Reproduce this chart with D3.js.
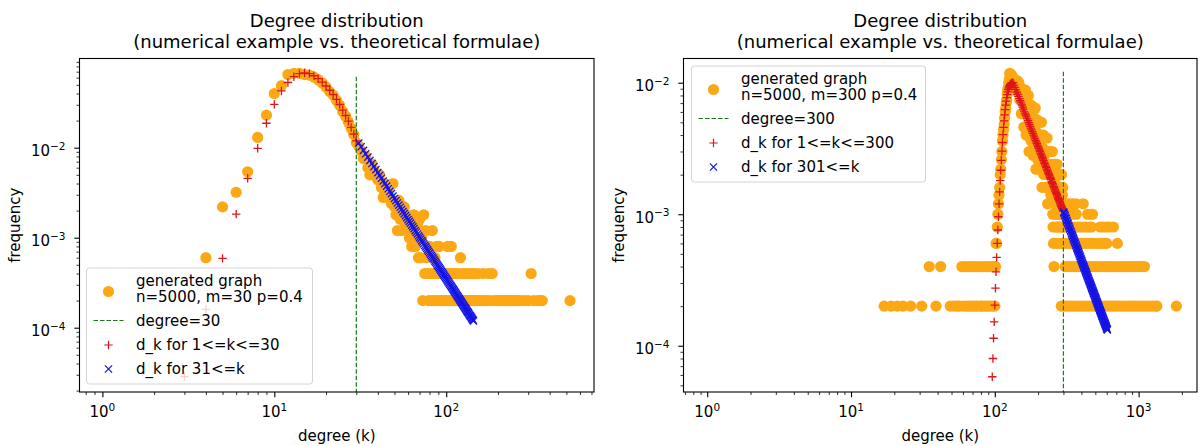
<!DOCTYPE html>
<html>
<head>
<meta charset="utf-8">
<script src="https://cdn.jsdelivr.net/npm/d3@7"></script>
<style>
  body { margin: 0; background: #fff; }
  text { font-family: "DejaVu Sans", sans-serif; fill: #000; }
</style>
</head>
<body>
<script>
// observed degree counts of the generated graphs, [degree, number of nodes], n = 5000
var nodes = 5000;

var observed30 = [
  [4,3],[5,11],[6,16],[7,27],[8,65],[9,115],[10,200],[11,245],[12,325],[13,335],[14,335],
  [15,325],[16,320],[17,305],[18,285],[19,262],[20,236],[21,210],[22,192],[23,168],[24,148],
  [25,126],[26,112],[27,96],[28,82],[29,70],[30,57],
  [31,52],[32,46],[33,38],[34,40],[35,30],[36,25],[37,33],[38,28],[39,24],[40,22],[41,25],
  [42,18],[43,14],[44,20],[45,16],[46,17],[47,14],[48,12],[49,20],[50,11],[51,9],[52,6],
  [53,13],[54,8],[55,6],[56,10],[57,11],[58,7],[59,9],[60,6],[61,5],[62,8],[63,4],[64,7],
  [65,9],[66,4],[67,5],[68,7],[69,3],[70,8],[71,3],[72,5],[73,1],[74,9],[75,2],[76,6],
  [77,3],[78,2],[79,1],[80,4],[81,2],[82,1],[83,6],[84,2],[85,1],[86,3],[87,2],[88,4],
  [89,1],[90,2],[91,4],[92,1],[93,2],[94,1],[95,2],[96,2],[97,1],[98,2],[99,1],[100,2],
  [102,4],[103,1],[104,2],[105,1],[106,2],[107,4],[108,1],[110,2],[111,1],[113,2],[114,1],
  [116,1],[117,2],[119,1],[121,3],[122,1],[124,2],[125,1],[127,1],[128,2],[131,1],[133,2],
  [135,1],[138,1],[140,2],[142,1],[145,2],[147,1],[150,1],[153,2],[156,1],[160,1],[164,2],
  [168,1],[172,1],[176,2],[180,1],[185,2],[190,1],[196,1],[202,1],[208,1],[214,1],[220,1],
  [226,1],[233,1],[240,1],[247,1],[255,1],[262,1],[270,1],[285,1],[300,1],[312,2],[322,1],
  [340,1],[352,1],[362,1],[525,1]
];

var observed300 = [
  // low degrees
  [17,1],[19,1],[21,1],[23,1],[26,1],[31,1],[35,2],[39,1],[42,2],[49,1],[52,1],[55,1],[57,1],
  [59,2],[61,1],[62,2],[64,1],[65,2],[67,1],[68,2],[70,1],[71,2],[73,1],[74,2],[76,1],[78,2],
  [80,1],[82,1],[83,2],[86,1],[87,2],[89,1],[91,2],[93,1],[95,2],[97,1],[99,2],
  // rise to the peak
  [100,1],[101,2],[102,3],[103,3],[104,4],[105,5],[106,6],[107,7],[108,8],[109,10],[110,11],
  [111,13],[112,15],[113,18],[114,20],[115,22],[116,24],[117,27],[118,30],[119,32],[120,35],
  [121,37],[122,41],[123,44],[124,46],[125,50],[126,53],[127,59],[128,56],[129,58],[130,54],
  [131,57],[132,52],[133,55],[134,50],[135,53],[136,48],[137,51],[138,46],[139,49],[140,45],
  // tail up to m
  [141,49],[143,52],[145,42],[147,50],[149,37],[151,46],[153,29],[155,42],[157,42],[159,23],
  [161,34],[163,44],[165,20],[167,36],[169,23],[171,40],[173,15],[175,28],[177,34],[179,18],
  [181,25],[183,33],[185,14],[187,27],[189,17],[191,32],[193,11],[195,21],[197,26],[199,13],
  [201,19],[203,25],[205,11],[207,20],[209,13],[211,25],[213,8],[215,16],[217,20],[219,10],
  [221,14],[223,19],[225,8],[227,15],[229,10],[231,19],[233,6],[235,12],[237,15],[239,8],
  [241,11],[243,15],[245,7],[247,12],[249,8],[251,15],[253,5],[255,10],[257,12],[259,6],
  [261,9],[263,12],[265,5],[267,10],[269,6],[271,12],[273,4],[275,8],[277,10],[279,5],
  [281,7],[283,10],[285,4],[287,8],[289,5],[291,10],[293,3],[295,7],[297,8],[299,4],
  // high degrees
  [300,6],[315,6],[331,6],[348,6],[366,6],[412,6],
  [262,5],[276,5],[288,5],[302,5],[318,5],[334,5],[351,5],[368,5],[442,5],[461,5],[478,5],
  [254,4],[266,4],[280,4],[294,4],[310,4],[326,4],[342,4],[359,4],[377,4],[396,4],[416,4],
  [437,4],[459,4],[470,4],[540,4],[567,4],[595,4],[625,4],[668,4],
  [256,3],[268,3],[282,3],[296,3],[312,3],[328,3],[344,3],[362,3],[380,3],[399,3],[419,3],
  [440,3],[462,3],[485,3],[509,3],[534,3],[561,3],[589,3],[600,3],[712,3],
  [258,2],[309,2],[324,2],[341,2],[358,2],[376,2],[395,2],[414,2],[435,2],[457,2],[480,2],
  [504,2],[529,2],[556,2],[583,2],[612,2],[643,2],[675,2],[709,2],[744,2],[781,2],[820,2],
  [861,2],[904,2],[949,2],[997,2],[1047,2],[1098,2],
  [290,1],[305,1],[320,1],[336,1],[353,1],[371,1],[390,1],[409,1],[430,1],[451,1],[474,1],
  [497,1],[522,1],[548,1],[576,1],[605,1],[635,1],[667,1],[700,1],[735,1],[772,1],[810,1],
  [851,1],[893,1],[938,1],[985,1],[1034,1],[1086,1],[1140,1],[1197,1],[1257,1],[1320,1],
  [1340,1],[1830,1]
];

// theoretical d_k, [k, d_k]
var dkLow30 = [
  [3,2.86e-5],[4,1.6e-4],[5,5.9e-4],[6,1.83e-3],[7,4.57e-3],[8,9.85e-3],[9,1.87e-2],
  [10,3.03e-2],[11,4.27e-2],[12,5.30e-2],[13,6.15e-2],[14,6.65e-2],[15,6.80e-2],[16,6.65e-2],
  [17,6.30e-2],[18,5.85e-2],[19,5.35e-2],[20,4.85e-2],[21,4.35e-2],[22,3.90e-2],[23,3.45e-2],
  [24,3.02e-2],[25,2.62e-2],[26,2.28e-2],[27,1.97e-2],[28,1.68e-2],[29,1.42e-2],[30,1.19e-2]
];
var dkHigh30 = [
  [31,1.125e-2],[32,1.025e-2],[33,9.35e-3],[34,8.56e-3],[35,7.86e-3],[36,7.23e-3],[37,6.67e-3],
  [38,6.16e-3],[39,5.70e-3],[40,5.29e-3],[41,4.92e-3],[42,4.58e-3],[43,4.27e-3],[44,3.99e-3],
  [45,3.74e-3],[46,3.50e-3],[47,3.28e-3],[48,3.09e-3],[49,2.90e-3],[50,2.73e-3],[51,2.58e-3],
  [52,2.43e-3],[53,2.30e-3],[54,2.18e-3],[55,2.06e-3],[56,1.95e-3],[57,1.85e-3],[58,1.76e-3],
  [59,1.67e-3],[60,1.59e-3],[61,1.52e-3],[62,1.45e-3],[63,1.38e-3],[64,1.32e-3],[65,1.26e-3],
  [66,1.20e-3],[67,1.15e-3],[68,1.10e-3],[69,1.05e-3],[70,1.01e-3],[71,9.68e-4],[72,9.29e-4],
  [73,8.92e-4],[74,8.57e-4],[75,8.23e-4],[76,7.92e-4],[77,7.61e-4],[78,7.33e-4],[79,7.06e-4],
  [80,6.80e-4],[81,6.55e-4],[82,6.32e-4],[83,6.10e-4],[84,5.89e-4],[85,5.68e-4],[86,5.49e-4],
  [87,5.31e-4],[88,5.13e-4],[89,4.96e-4],[90,4.80e-4],[91,4.65e-4],[92,4.50e-4],[93,4.36e-4],
  [94,4.22e-4],[95,4.09e-4],[96,3.96e-4],[97,3.84e-4],[98,3.73e-4],[99,3.62e-4],[100,3.51e-4],
  [101,3.41e-4],[102,3.31e-4],[103,3.22e-4],[104,3.13e-4],[105,3.04e-4],[106,2.96e-4],
  [107,2.88e-4],[108,2.80e-4],[109,2.72e-4],[110,2.65e-4],[111,2.58e-4],[112,2.51e-4],
  [113,2.45e-4],[114,2.38e-4],[115,2.32e-4],[116,2.26e-4],[117,2.21e-4],[118,2.15e-4],
  [119,2.10e-4],[120,2.05e-4],[121,2.00e-4],[122,1.95e-4],[123,1.90e-4],[124,1.86e-4],
  [125,1.81e-4],[126,1.77e-4],[127,1.73e-4],[128,1.69e-4],[129,1.65e-4],[130,1.62e-4],
  [131,1.58e-4],[132,1.54e-4],[133,1.51e-4],[134,1.48e-4],[135,1.45e-4],[136,1.41e-4],
  [137,1.38e-4],[138,1.35e-4],[139,1.33e-4],[140,1.30e-4],[141,1.27e-4],[142,1.24e-4],
  [143,1.22e-4],[144,1.19e-4]
];
var dkLow300 = [
  [96,5.81e-5],[97,8.0e-5],[98,1.14e-4],[99,1.52e-4],[100,2.04e-4],[101,2.74e-4],[102,3.65e-4],
  [103,4.70e-4],[104,6.01e-4],[105,7.59e-4],[106,9.57e-4],[107,1.20e-3],[108,1.48e-3],
  [109,1.80e-3],[110,2.16e-3],[111,2.57e-3],[112,3.02e-3],[113,3.51e-3],[114,4.03e-3],
  [115,4.57e-3],[116,5.13e-3],[117,5.69e-3],[118,6.24e-3],[119,6.76e-3],[120,7.24e-3],
  [121,7.71e-3],[122,8.13e-3],[123,8.51e-3],[124,8.85e-3],[125,9.12e-3],[126,9.33e-3],
  [127,9.51e-3],[128,9.66e-3],[129,9.77e-3],[130,9.86e-3],[131,9.93e-3],[132,9.98e-3],
  [134,1.0e-2],[136,9.60e-3],[138,9.21e-3],[140,8.85e-3],[142,8.50e-3],[144,8.17e-3],
  [146,7.86e-3],[148,7.57e-3],[150,7.29e-3],[152,7.03e-3],[154,6.77e-3],[156,6.53e-3],
  [158,6.30e-3],[160,6.09e-3],[162,5.88e-3],[164,5.68e-3],[166,5.49e-3],[168,5.31e-3],
  [170,5.14e-3],[172,4.97e-3],[174,4.81e-3],[176,4.66e-3],[178,4.52e-3],[180,4.38e-3],
  [182,4.24e-3],[184,4.12e-3],[186,3.99e-3],[188,3.87e-3],[190,3.76e-3],[192,3.65e-3],
  [194,3.55e-3],[196,3.45e-3],[198,3.35e-3],[200,3.26e-3],[202,3.17e-3],[204,3.08e-3],
  [206,3.00e-3],[208,2.92e-3],[210,2.84e-3],[212,2.77e-3],[214,2.70e-3],[216,2.63e-3],
  [218,2.56e-3],[220,2.49e-3],[222,2.43e-3],[224,2.37e-3],[226,2.31e-3],[228,2.26e-3],
  [230,2.20e-3],[232,2.15e-3],[234,2.10e-3],[236,2.05e-3],[238,2.00e-3],[240,1.96e-3],
  [242,1.91e-3],[244,1.87e-3],[246,1.83e-3],[248,1.78e-3],[250,1.74e-3],[252,1.71e-3],
  [254,1.67e-3],[256,1.63e-3],[258,1.60e-3],[260,1.56e-3],[262,1.53e-3],[264,1.50e-3],
  [266,1.47e-3],[268,1.44e-3],[270,1.41e-3],[272,1.38e-3],[274,1.35e-3],[276,1.32e-3],
  [278,1.30e-3],[280,1.27e-3],[282,1.25e-3],[284,1.22e-3],[286,1.20e-3],[288,1.17e-3],
  [290,1.15e-3],[292,1.13e-3],[294,1.11e-3],[296,1.09e-3],[298,1.07e-3],[300,1.05e-3]
];
var dkHigh300 = [
  [301,1.040e-3],[306,9.91e-4],[311,9.44e-4],[316,9.01e-4],[321,8.60e-4],[326,8.22e-4],
  [331,7.86e-4],[336,7.52e-4],[341,7.20e-4],[346,6.90e-4],[351,6.61e-4],[356,6.34e-4],
  [361,6.09e-4],[366,5.84e-4],[371,5.61e-4],[376,5.40e-4],[381,5.19e-4],[386,4.99e-4],
  [391,4.81e-4],[396,4.63e-4],[401,4.46e-4],[406,4.30e-4],[411,4.15e-4],[416,4.00e-4],
  [421,3.87e-4],[426,3.73e-4],[431,3.61e-4],[436,3.49e-4],[441,3.37e-4],[446,3.26e-4],
  [451,3.15e-4],[456,3.05e-4],[461,2.96e-4],[466,2.87e-4],[471,2.78e-4],[476,2.69e-4],
  [481,2.61e-4],[486,2.53e-4],[491,2.46e-4],[496,2.38e-4],[501,2.31e-4],[506,2.25e-4],
  [511,2.18e-4],[516,2.12e-4],[521,2.06e-4],[526,2.00e-4],[531,1.95e-4],[536,1.89e-4],
  [541,1.84e-4],[546,1.79e-4],[551,1.75e-4],[556,1.70e-4],[561,1.66e-4],[566,1.61e-4],
  [571,1.57e-4],[576,1.53e-4],[581,1.49e-4],[586,1.46e-4],[591,1.42e-4],[596,1.39e-4],
  [601,1.35e-4],[606,1.32e-4],
  [303,1.020e-3],[308,9.72e-4],[313,9.27e-4],[318,8.85e-4],[323,8.45e-4],[328,8.07e-4],
  [333,7.72e-4],[338,7.39e-4],[343,7.07e-4],[348,6.78e-4],[353,6.50e-4],[358,6.24e-4],
  [363,5.99e-4],[368,5.75e-4],[373,5.53e-4],[378,5.31e-4],[383,5.11e-4],[388,4.92e-4],
  [393,4.74e-4],[398,4.56e-4],[403,4.40e-4],[408,4.24e-4],[413,4.09e-4],[418,3.95e-4],
  [423,3.81e-4],[428,3.68e-4],[433,3.56e-4],[438,3.44e-4],[443,3.33e-4],[448,3.22e-4],
  [453,3.11e-4],[458,3.01e-4],[463,2.92e-4],[468,2.83e-4],[473,2.74e-4],[478,2.66e-4],
  [483,2.58e-4],[488,2.50e-4],[493,2.43e-4],[498,2.36e-4],[503,2.29e-4],[508,2.22e-4],
  [513,2.16e-4],[518,2.10e-4],[523,2.04e-4],[528,1.98e-4],[533,1.93e-4],[538,1.87e-4],
  [543,1.82e-4],[548,1.78e-4],[553,1.73e-4],[558,1.68e-4],[563,1.64e-4],[568,1.60e-4],
  [573,1.56e-4],[578,1.52e-4],[583,1.48e-4],[588,1.44e-4],[593,1.41e-4],[598,1.37e-4],
  [603,1.34e-4]
];

// axis limits of the two panels
var xLim30 = [0.736, 724], yLim30 = [1.93e-5, 0.098];
var xLim300 = [0.684, 2547], yLim300 = [4.45e-5, 0.01528];

var orange = "#fca815";
var plusPath = "M-4.2,0H4.2M0,-4.2V4.2";
var crossPath = "M-3.6,-3.6L3.6,3.6M-3.6,3.6L3.6,-3.6";

var svg = d3.select("body").append("svg").attr("width", 1200).attr("height", 446);
svg.append("rect").attr("width", 1200).attr("height", 446).attr("fill", "#fff");

function powLabel(t, v) {
  var e = Math.round(Math.log10(v));
  t.append("tspan").text("10");
  t.append("tspan").attr("dy", -6.5).style("font-size", "10.5px")
    .text(e < 0 ? "\u2212" + (-e) : String(e));
}

function isPow10(v) {
  var l = Math.log10(v);
  return Math.abs(l - Math.round(l)) < 1e-9;
}

function drawPanel(p) {
  var x = d3.scaleLog().domain(p.xLim).range([p.left, p.right]);
  var y = d3.scaleLog().domain(p.yLim).range([p.bottom, p.top]);
  var g = svg.append("g");

  g.append("clipPath").attr("id", "clip-" + p.name)
    .append("rect")
    .attr("x", p.left).attr("y", p.top)
    .attr("width", p.right - p.left).attr("height", p.bottom - p.top);

  var plot = g.append("g").attr("clip-path", "url(#clip-" + p.name + ")");

  // generated graph
  plot.selectAll(".obs").data(p.observed).enter().append("circle")
    .attr("cx", function(d) { return x(d[0]); })
    .attr("cy", function(d) { return y(d[1] / nodes); })
    .attr("r", 5.6)
    .attr("fill", orange);

  // degree = m
  plot.append("line")
    .attr("x1", x(p.m)).attr("x2", x(p.m))
    .attr("y1", y(p.mTop)).attr("y2", y(p.yLim[0]))
    .attr("stroke", "#1a7a1a").attr("stroke-width", 1.2)
    .attr("stroke-dasharray", "4.5,2");

  // d_k for k <= m
  plot.selectAll(".low").data(p.dkLow).enter().append("path")
    .attr("transform", function(d) { return "translate(" + x(d[0]) + "," + y(d[1]) + ")"; })
    .attr("d", plusPath)
    .attr("stroke", "#e0151a").attr("stroke-width", 1.3).attr("fill", "none");

  // d_k for k > m
  plot.selectAll(".high").data(p.dkHigh).enter().append("path")
    .attr("transform", function(d) { return "translate(" + x(d[0]) + "," + y(d[1]) + ")"; })
    .attr("d", crossPath)
    .attr("stroke", "#1414e6").attr("stroke-width", 1.3).attr("fill", "none");

  // ticks
  var xMajor = x.ticks().filter(isPow10), xMinor = x.ticks().filter(function(v) { return !isPow10(v); });
  var yMajor = y.ticks().filter(isPow10), yMinor = y.ticks().filter(function(v) { return !isPow10(v); });

  function ticks(axis, vals, size, tr) {
    var a = g.append("g").attr("transform", tr)
      .call(axis.tickValues(vals).tickSize(size).tickSizeOuter(0).tickFormat(""));
    a.select(".domain").remove();
    a.selectAll("line").attr("stroke", "#000").attr("stroke-width", size > 4 ? 1.1 : 0.8);
  }
  ticks(d3.axisBottom(x), xMajor, 5.2, "translate(0," + p.bottom + ")");
  ticks(d3.axisBottom(x), xMinor, 3, "translate(0," + p.bottom + ")");
  ticks(d3.axisLeft(y), yMajor, 5.2, "translate(" + p.left + ",0)");
  ticks(d3.axisLeft(y), yMinor, 3, "translate(" + p.left + ",0)");

  xMajor.forEach(function(v) {
    var t = g.append("text").attr("x", x(v)).attr("y", p.bottom + 25)
      .attr("text-anchor", "middle").style("font-size", "15px");
    powLabel(t, v);
  });
  yMajor.forEach(function(v) {
    var t = g.append("text").attr("x", p.left - 14).attr("y", y(v) + 8.5)
      .attr("text-anchor", "end").style("font-size", "15px");
    powLabel(t, v);
  });

  // frame
  g.append("rect")
    .attr("x", p.left).attr("y", p.top)
    .attr("width", p.right - p.left).attr("height", p.bottom - p.top)
    .attr("fill", "none").attr("stroke", "#000").attr("stroke-width", 1.1);

  var cx = (p.left + p.right) / 2;
  g.append("text").attr("x", cx).attr("y", 26.5).attr("text-anchor", "middle")
    .style("font-size", "18px").text("Degree distribution");
  g.append("text").attr("x", cx).attr("y", 47.5).attr("text-anchor", "middle")
    .style("font-size", "18px").text("(numerical example vs. theoretical formulae)");
  g.append("text").attr("x", cx).attr("y", 441).attr("text-anchor", "middle")
    .style("font-size", "15px").text("degree (k)");
  g.append("text")
    .attr("transform", "translate(" + (p.left - 60) + "," + ((p.top + p.bottom) / 2) + ") rotate(-90)")
    .attr("text-anchor", "middle").style("font-size", "15px").text("frequency");

  // legend
  var lg = g.append("g").attr("transform", "translate(" + p.legend[0] + "," + p.legend[1] + ")");
  lg.append("rect").attr("width", p.legendW).attr("height", 116).attr("rx", 3)
    .attr("fill", "#fff").attr("fill-opacity", 0.8).attr("stroke", "#d4d4d4");
  lg.append("circle").attr("cx", 22).attr("cy", 23.5).attr("r", 5.6).attr("fill", orange);
  lg.append("line").attr("x1", 7).attr("x2", 37).attr("y1", 52.5).attr("y2", 52.5)
    .attr("stroke", "#1a7a1a").attr("stroke-width", 1.2).attr("stroke-dasharray", "4.5,2");
  lg.append("path").attr("transform", "translate(22,77)").attr("d", plusPath)
    .attr("stroke", "#e0151a").attr("stroke-width", 1.2);
  lg.append("path").attr("transform", "translate(22,101)").attr("d", crossPath)
    .attr("stroke", "#1414e6").attr("stroke-width", 1.2);
  var labels = [["generated graph", 17.5], ["n=5000, m=" + p.m + " p=0.4", 34],
                ["degree=" + p.m, 57.5], ["d_k for 1<=k<=" + p.m, 82], ["d_k for " + (p.m + 1) + "<=k", 106]];
  labels.forEach(function(l) {
    lg.append("text").attr("x", 49.5).attr("y", l[1]).style("font-size", "15px").text(l[0]);
  });
}

drawPanel({
  name: "m30", m: 30, mTop: 0.0615,
  left: 79.5, right: 594, top: 58.5, bottom: 392,
  xLim: xLim30, yLim: yLim30,
  observed: observed30, dkLow: dkLow30, dkHigh: dkHigh30,
  legend: [86.5, 268], legendW: 226
});

drawPanel({
  name: "m300", m: 300, mTop: 0.0121,
  left: 683.5, right: 1197, top: 58.5, bottom: 392,
  xLim: xLim300, yLim: yLim300,
  observed: observed300, dkLow: dkLow300, dkHigh: dkHigh300,
  legend: [691.5, 66], legendW: 234
});
</script>
</body>
</html>
